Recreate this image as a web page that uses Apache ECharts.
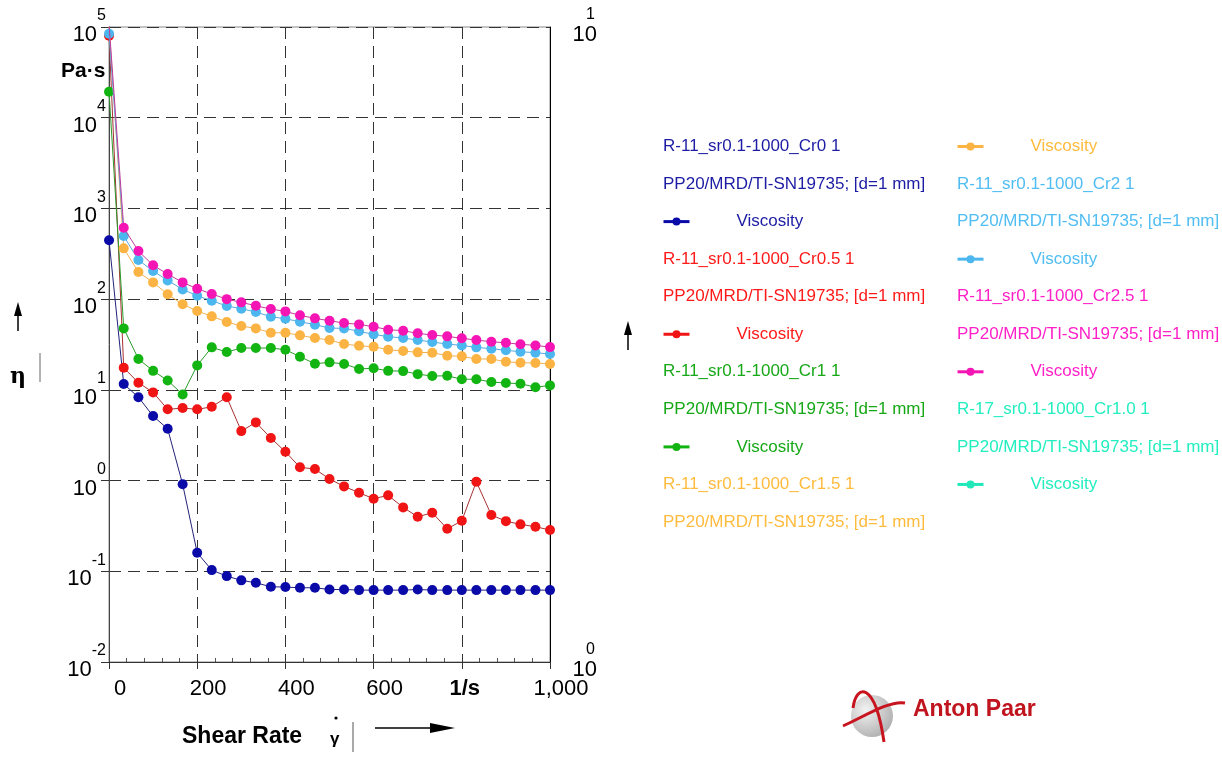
<!DOCTYPE html>
<html><head><meta charset="utf-8">
<script src="https://cdn.jsdelivr.net/npm/echarts@6/dist/echarts.min.js"></script>
<style>html,body{margin:0;padding:0;background:#fff}#c{width:1222px;height:758px}</style>
</head><body><div id="c"></div>
<script>
// ---- data ----
const shearRate = [0.1, 33.4, 66.7, 100, 133, 167, 200, 233, 267, 300, 333, 367, 400, 433, 467, 500, 533, 567, 600, 633, 667, 700, 733, 767, 800, 833, 867, 900, 933, 967, 1000];
const visCr0   = [445, 11.6, 8.3, 5.14, 3.72, 0.91, 0.16, 0.103, 0.0885, 0.0794, 0.0747, 0.0675, 0.067, 0.0658, 0.0658, 0.063, 0.063, 0.062, 0.062, 0.062, 0.062, 0.063, 0.062, 0.062, 0.062, 0.062, 0.062, 0.062, 0.062, 0.062, 0.062];
const visCr05  = [80000, 17.5, 12.0, 9.38, 6.1, 6.3, 6.1, 6.5, 8.3, 3.51, 4.38, 2.94, 2.08, 1.40, 1.34, 1.04, 0.863, 0.734, 0.631, 0.687, 0.506, 0.399, 0.442, 0.294, 0.36, 0.97, 0.417, 0.357, 0.329, 0.31, 0.285];
const visCr1   = [19360, 47.6, 21.9, 16.2, 12.7, 8.9, 18.6, 29.4, 26.1, 28.9, 28.9, 28.9, 27.7, 23.2, 19.4, 20.1, 19.3, 17.0, 17.3, 16.2, 16.1, 14.9, 14.2, 14.3, 13.1, 13.1, 12.2, 11.9, 11.7, 10.7, 11.2];
const visCr15  = [105000, 363, 199, 153, 113, 87.7, 74, 64.6, 56, 50.5, 47.6, 42.6, 42.6, 39.9, 37.3, 35.4, 32.0, 30.6, 29.9, 27.7, 26.8, 25.9, 25.7, 23.8, 23.4, 21.9, 21.9, 20.4, 19.9, 19.8, 19.3];
const visCr2   = [84400, 496, 270, 204, 161, 128, 109, 96, 84, 78.4, 72.1, 64, 60.8, 56.4, 52.3, 48, 47.6, 44.2, 40.9, 38.6, 37.3, 35.4, 33.7, 32, 30.9, 29.4, 28.4, 27.3, 26.3, 25.7, 24.8];
const visCr25  = [108000, 613, 339, 236, 189, 153, 130, 114, 100, 92.2, 84.5, 77.8, 73.3, 66.3, 61.4, 57.8, 54.5, 52.7, 49.7, 46, 44.9, 42, 40.2, 38.9, 37, 35.4, 33.9, 33, 31.8, 30.9, 29.6];
const visR17   = [];

const xTickValues = [0, 200, 400, 600, 800, 1000];
const xTickLabels = ['0', '200', '400', '600', '1/s', '1,000'];
const yExponents = ['-2', '-1', '0', '1', '2', '3', '4', '5'];
const rightExponents = ['0', '1'];

const sampleNames = ['R-11_sr0.1-1000_Cr0 1', 'R-11_sr0.1-1000_Cr0.5 1', 'R-11_sr0.1-1000_Cr1 1', 'R-11_sr0.1-1000_Cr1.5 1', 'R-11_sr0.1-1000_Cr2 1', 'R-11_sr0.1-1000_Cr2.5 1', 'R-17_sr0.1-1000_Cr1.0 1'];
const geometryLabel = 'PP20/MRD/TI-SN19735; [d=1 mm]';
const quantityLabel = 'Viscosity';

// ---- styling ----
const FONT = 'Liberation Sans, Arial, Helvetica, sans-serif';
const seriesData = [visCr0, visCr05, visCr1, visCr15, visCr2, visCr25, visR17];
const markerColors = ['#0a0aa8', '#f01414', '#12b412', '#fbb443', '#4cb6ef', '#f514b4', '#20e8b8'];
const lineColors   = ['#22227a', '#a83232', '#2a9a2a', '#f0b050', '#5aa8e0', '#c03c9c', '#20c8a0'];
const textColors   = ['#1c1ca4', '#ff1a1a', '#17a817', '#ffbb3d', '#50bdf3', '#ff20c8', '#22eec0'];

const chart = echarts.init(document.getElementById('c'), null, {renderer: 'canvas'});

const series = seriesData.map((vals, i) => ({
  name: sampleNames[i],
  type: 'line',
  data: vals.map((v, k) => [shearRate[k], v]),
  symbol: 'circle',
  symbolSize: 10,
  showSymbol: true,
  itemStyle: {color: markerColors[i]},
  lineStyle: {color: lineColors[i], width: 1},
  emphasis: {disabled: true},
  z: 3 + i
}));

// legend layout: 2 columns, 37.5px rows
const rowY = r => 145 + r * 37.55;
const col1X = 663, col2X = 957;
const legendSlots = [];
for (let i = 0; i < 7; i++) {
  for (let j = 0; j < 3; j++) legendSlots.push({series: i, kind: j});
}
const graphics = [];
const legends = [];
legendSlots.forEach((s, idx) => {
  const col = idx < 11 ? 0 : 1;
  const row = idx < 11 ? idx : idx - 11;
  const x = col === 0 ? col1X : col2X;
  const y = rowY(row);
  if (s.kind === 2) {
    legends.push({
      data: [sampleNames[s.series]],
      left: x - 6, top: y - 12,
      itemWidth: 26, itemHeight: 10,
      selectedMode: false,
      formatter: () => quantityLabel,
      textStyle: {color: textColors[s.series], fontSize: 17, fontFamily: FONT, padding: [0, 0, 0, 42]},
      lineStyle: {width: 3, color: markerColors[s.series]},
      itemStyle: {color: markerColors[s.series]}
    });
  } else {
    graphics.push({
      type: 'text', left: x, top: y - 7,
      style: {text: s.kind === 0 ? sampleNames[s.series] : geometryLabel, fill: textColors[s.series], font: '17px ' + FONT}
    });
  }
});

// axis titles and decorations
graphics.push(
  {type: 'text', left: 61, top: 61, style: {text: 'Pa·s', fill: '#000', font: 'bold 21px ' + FONT}},
  {type: 'text', left: 10, top: 366, style: {text: 'η', fill: '#000', font: 'bold 22px DejaVu Serif, serif'}},
  {type: 'line', shape: {x1: 40, y1: 353, x2: 40, y2: 382}, style: {stroke: '#666', lineWidth: 1}},
  {type: 'line', shape: {x1: 18, y1: 312, x2: 18, y2: 331}, style: {stroke: '#000', lineWidth: 1.5}},
  {type: 'polygon', shape: {points: [[18, 302], [14, 316], [22, 316]]}, style: {fill: '#000'}},
  {type: 'line', shape: {x1: 628, y1: 332, x2: 628, y2: 350}, style: {stroke: '#000', lineWidth: 1.5}},
  {type: 'polygon', shape: {points: [[628, 321], [624, 335], [632, 335]]}, style: {fill: '#000'}},
  {type: 'text', left: 182, top: 725, style: {text: 'Shear Rate', fill: '#000', font: 'bold 23px ' + FONT}},
  {type: 'text', left: 330, top: 731, style: {text: 'γ', fill: '#000', font: 'bold 17px ' + FONT}},
  {type: 'circle', shape: {cx: 336, cy: 718, r: 1.6}, style: {fill: '#000'}},
  {type: 'line', shape: {x1: 353, y1: 722, x2: 353, y2: 752}, style: {stroke: '#555', lineWidth: 1}},
  {type: 'line', shape: {x1: 375, y1: 728, x2: 435, y2: 728}, style: {stroke: '#000', lineWidth: 1.5}},
  {type: 'polygon', shape: {points: [[455, 728], [430, 723], [430, 733]]}, style: {fill: '#000'}},
  // Anton Paar logo
  {type: 'circle', shape: {cx: 872, cy: 716, r: 21},
   style: {fill: {type: 'radial', x: 0.35, y: 0.35, r: 0.8, colorStops: [{offset: 0, color: '#f2f2f2'}, {offset: 1, color: '#a8a8a8'}]}}},
  {type: 'bezierCurve', shape: {x1: 853, y1: 708, cpx1: 856, cpy1: 684, cpx2: 875, cpy2: 680, x2: 884, y2: 742}, style: {stroke: '#c8141e', lineWidth: 3, fill: null}},
  {type: 'bezierCurve', shape: {x1: 843, y1: 726, cpx1: 865, cpy1: 716, cpx2: 890, cpy2: 700, x2: 905, y2: 703}, style: {stroke: '#c8141e', lineWidth: 3, fill: null}},
  {type: 'text', left: 913, top: 698, style: {text: 'Anton Paar', fill: '#c0141e', font: 'bold 23px ' + FONT}}
);

const option = {
  animation: false,
  backgroundColor: '#fff',
  grid: {left: 109, right: 672, top: 27, bottom: 96, show: true, borderColor: '#888', borderWidth: 1, backgroundColor: 'transparent'},
  xAxis: {
    type: 'value', min: 0, max: 1000, interval: 200,
    axisLine: {show: true, lineStyle: {color: '#333', width: 1}},
    axisTick: {show: true, length: 7, lineStyle: {color: '#333'}},
    minorTick: {show: true, splitNumber: 5, length: -4, lineStyle: {color: '#555'}},
    splitLine: {show: true, lineStyle: {type: [12, 7], color: '#333', width: 1}},
    axisLabel: {
      margin: 16, color: '#000', fontSize: 22, fontFamily: FONT,
      formatter: v => {
        const k = xTickValues.indexOf(v);
        const t = k >= 0 ? xTickLabels[k] : String(v);
        return t === '1/s' ? '{u|' + t + '}' : '{n|' + t + '}';
      },
      rich: {
        n: {fontSize: 22, fontFamily: FONT, color: '#000', padding: [0, 0, 0, 22]},
        u: {fontSize: 22, fontFamily: FONT, color: '#000', fontWeight: 'bold', padding: [0, 0, 0, 6]}
      }
    }
  },
  yAxis: [{
    type: 'log', logBase: 10, min: 0.01, max: 100000, position: 'left',
    axisLine: {show: true, lineStyle: {color: '#444', width: 1}},
    axisTick: {show: true, length: 8, lineStyle: {color: '#333'}},
    splitLine: {show: true, lineStyle: {type: [12, 7], color: '#333', width: 1}},
    axisLabel: {
      margin: 3, color: '#000', fontFamily: FONT,
      formatter: v => {
        const e = Math.round(Math.log10(v));
        const k = yExponents.indexOf(String(e));
        return '{b|10}{s|' + (k >= 0 ? yExponents[k] : e) + '}';
      },
      rich: {
        b: {fontSize: 22, fontFamily: FONT, color: '#000', padding: [16, 0, 0, 0]},
        s: {fontSize: 16, fontFamily: FONT, color: '#000', padding: [0, 0, 22, 0]}
      }
    }
  }, {
    type: 'log', logBase: 10, min: 1, max: 10, position: 'right',
    axisLine: {show: true, lineStyle: {color: '#000', width: 1}},
    axisTick: {show: false},
    splitLine: {show: false},
    axisLabel: {
      margin: 47, align: 'right', color: '#000', fontFamily: FONT,
      formatter: v => {
        const e = Math.round(Math.log10(v));
        const k = rightExponents.indexOf(String(e));
        return '{s|' + (k >= 0 ? rightExponents[k] : e) + '}\n{b|10}';
      },
      rich: {
        b: {fontSize: 22, fontFamily: FONT, color: '#000', lineHeight: 24, align: 'right'},
        s: {fontSize: 16, fontFamily: FONT, color: '#000', lineHeight: 15, align: 'right', padding: [0, 2, 0, 0]}
      }
    }
  }],
  legend: legends,
  graphic: graphics,
  series: series
};
chart.setOption(option);
</script>
</body></html>
